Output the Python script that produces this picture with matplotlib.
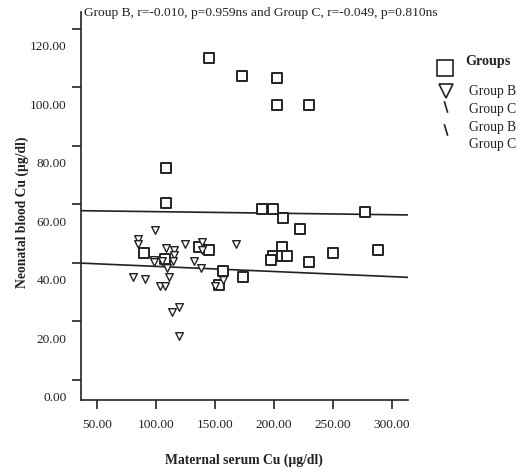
import numpy as np
import matplotlib
matplotlib.use("Agg")
import matplotlib.pyplot as plt
from matplotlib.transforms import ScaledTranslation
from matplotlib.lines import Line2D

plt.rcParams['font.family'] = ['Liberation Serif', 'DejaVu Serif']

# Group B (squares): maternal serum Cu vs neonatal blood Cu
b_x = [145, 173, 203, 203, 230, 109, 109, 190, 199, 208, 277,
       222, 207, 199, 198, 207, 211, 230, 250, 288, 90, 108, 137, 145, 157, 174, 154]
b_y = [110, 104, 103, 94, 94, 72.5, 60.4, 58.3, 58.3, 55.4, 57.4,
       51.4, 45.4, 42.3, 41.1, 42.3, 42.3, 40.3, 43.4, 44.3, 43.4, 41.4, 45.4, 44.3, 37.3, 35.3, 32.3]
# Group C (triangles)
c_x = [99, 85, 85, 109, 115.5, 115.3, 125, 139, 139, 168, 98.3, 98.3, 105, 114.4,
       109.3, 132.2, 138.6, 81, 91.2, 111.3, 103.6, 108.1, 157, 150.5, 120, 114, 120]
c_y = [51.2, 48.2, 46.5, 45.1, 44.2, 42.5, 46.3, 47.1, 44.3, 46.3, 41.1, 40.2, 40.5, 40.5,
       38.1, 40.5, 38.3, 35.1, 34.3, 35.1, 32.1, 32.1, 34.2, 32.2, 25, 23.1, 15]

x_ticks = [50, 100, 150, 200, 250, 300]
y_ticks = [0, 20, 40, 60, 80, 100, 120]
title = "Group B, r=-0.010, p=0.959ns and Group C, r=-0.049, p=0.810ns"
xlabel = "Maternal serum Cu (µg/dl)"
ylabel = "Neonatal blood Cu (µg/dl)"
legend_title = "Groups"
legend_labels = ["Group B", "Group C", "Group B", "Group C"]

ink = '#222222'
fig = plt.figure(figsize=(5.17, 4.70), dpi=100)
ax = fig.add_axes([0.156, 0.149, 0.633, 0.826])
xlim = (36.4, 313.6)
ylim = (-6.9, 125.8)
ax.set_xlim(*xlim)
ax.set_ylim(*ylim)

# Fit lines
xs = np.array(xlim)
for gx, gy in ((b_x, b_y), (c_x, c_y)):
    k, m = np.polyfit(gx, gy, 1)
    ax.plot(xs, k * xs + m, color=ink, lw=1.2, zorder=2)

ax.scatter(b_x, b_y, marker='s', s=44, facecolors='white', edgecolors=ink, linewidths=1.4, zorder=3)
ax.scatter(c_x, c_y, marker='v', s=30, facecolors='white', edgecolors=ink, linewidths=1.0, zorder=3)

for s in ['top', 'right']:
    ax.spines[s].set_visible(False)
for s in ['left', 'bottom']:
    ax.spines[s].set_linewidth(1.2)
    ax.spines[s].set_color(ink)

ax.set_xticks(x_ticks)
ax.set_xticklabels([f"{v:.2f}" for v in x_ticks])
ax.set_yticks(y_ticks)
ax.set_yticklabels([f"{v:.2f}" for v in y_ticks])
ax.tick_params(axis='both', direction='out', length=6.5, width=1.2, color=ink, labelsize=9.6, labelcolor=ink)
ax.tick_params(axis='x', pad=7)
ax.tick_params(axis='y', pad=3.5)
off = ScaledTranslation(0, -0.17, fig.dpi_scale_trans)
for lbl in ax.get_yticklabels():
    lbl.set_transform(lbl.get_transform() + off)

fig.text(84 / 517, 1 - 13 / 470, title, ha='left', va='center', fontsize=9.7, color=ink)
fig.text(244 / 517, 1 - 460 / 470, xlabel, ha='center', va='center', fontsize=9.8, fontweight='bold', color=ink)
fig.text(22 / 517, 1 - 212 / 470, ylabel, ha='center', va='center', rotation=90, fontsize=9.8, fontweight='bold', color=ink)

# Legend (manual, SPSS-like)
fig.text(465 / 517, 1 - 62 / 470, legend_title, ha='left', va='center', fontsize=10.2, fontweight='bold', color=ink)
ys_txt = [92, 109.5, 127, 144.5]
for lab, yy in zip(legend_labels, ys_txt):
    fig.text(469 / 517, 1 - yy / 470, lab, ha='left', va='center', fontsize=9.8, color=ink)
fig.add_artist(Line2D([445 / 517], [1 - 67.5 / 470], marker='s', markersize=11, markerfacecolor='white',
                      markeredgecolor=ink, markeredgewidth=1.2, transform=fig.transFigure))
fig.add_artist(Line2D([445.5 / 517], [1 - 91 / 470], marker='v', markersize=10, markerfacecolor='white',
                      markeredgecolor=ink, markeredgewidth=1.2, transform=fig.transFigure))
for yc in (107, 130):
    fig.add_artist(Line2D([444.5 / 517, 447.5 / 517], [1 - (yc - 5) / 470, 1 - (yc + 5) / 470],
                          color=ink, lw=1.2, transform=fig.transFigure))

fig.savefig("out.png", dpi=100)
